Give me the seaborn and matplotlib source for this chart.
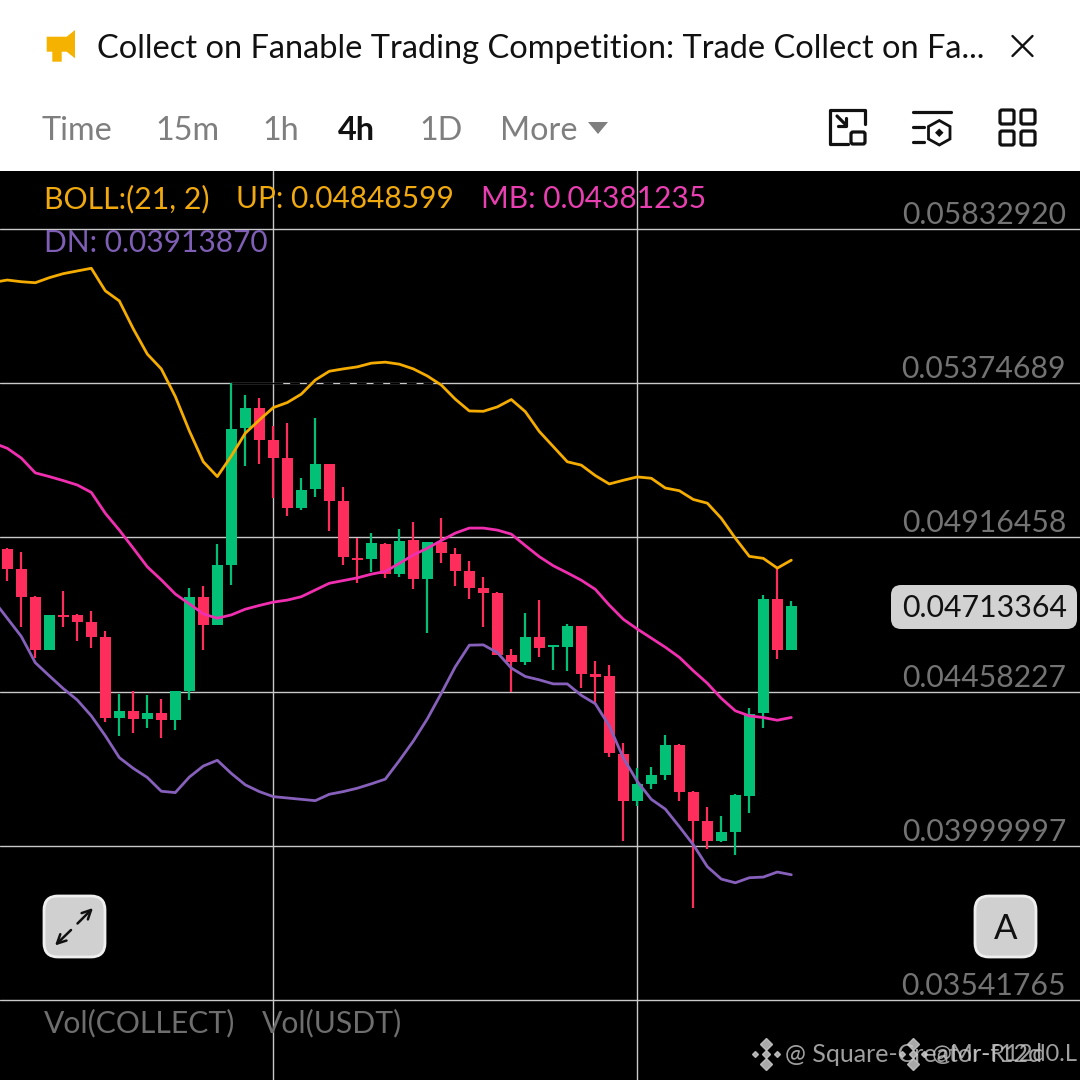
import numpy as np
import pandas as pd
import matplotlib
matplotlib.use("Agg")
import matplotlib.pyplot as plt
import matplotlib.transforms as mtrans
from matplotlib.patches import FancyBboxPatch, Polygon
import seaborn as sns

# candles, 4h
opens = [0.04883, 0.04823, 0.04739, 0.04583, 0.04686, 0.04686, 0.04666, 0.04619, 0.04379, 0.04399,
         0.04376, 0.04394, 0.04374, 0.04459, 0.04740, 0.04657, 0.04834, 0.05241, 0.05300, 0.05206,
         0.05152, 0.05003, 0.05059, 0.05134, 0.05024, 0.04854, 0.04852, 0.04896, 0.04807, 0.04908,
         0.04793, 0.04902, 0.04867, 0.04816, 0.04765, 0.04751, 0.04566, 0.04547, 0.04621, 0.04591,
         0.04592, 0.04654, 0.04510, 0.04505, 0.04272, 0.04133, 0.04184, 0.04211, 0.04299, 0.04159,
         0.04074, 0.04015, 0.04042, 0.04149, 0.04394, 0.04733, 0.04583]
closes = [0.04823, 0.04739, 0.04583, 0.04686, 0.04679, 0.04666, 0.04620, 0.04380, 0.04399, 0.04377,
          0.04394, 0.04374, 0.04459, 0.04740, 0.04657, 0.04834, 0.05238, 0.05300, 0.05206, 0.05152,
          0.05004, 0.05057, 0.05134, 0.05024, 0.04857, 0.04849, 0.04899, 0.04807, 0.04905, 0.04793,
          0.04902, 0.04869, 0.04816, 0.04766, 0.04752, 0.04566, 0.04547, 0.04621, 0.04589, 0.04597,
          0.04654, 0.04511, 0.04502, 0.04275, 0.04133, 0.04183, 0.04210, 0.04299, 0.04159, 0.04074,
          0.04015, 0.04041, 0.04151, 0.04392, 0.04733, 0.04583, 0.04713364]
highs = [0.04885, 0.04874, 0.04741, 0.04686, 0.04756, 0.04688, 0.04699, 0.04639, 0.04451, 0.04459,
         0.04447, 0.04436, 0.04459, 0.04765, 0.04772, 0.04897, 0.05374, 0.05340, 0.05330, 0.05247,
         0.05256, 0.05094, 0.05270, 0.05134, 0.05067, 0.04914, 0.04930, 0.04901, 0.04942, 0.04961,
         0.04902, 0.04973, 0.04884, 0.04846, 0.04800, 0.04755, 0.04584, 0.04691, 0.04730, 0.04597,
         0.04659, 0.04654, 0.04550, 0.04537, 0.04305, 0.04232, 0.04235, 0.04328, 0.04303, 0.04162,
         0.04115, 0.04089, 0.04153, 0.04409, 0.04745, 0.04825, 0.04728]
lows = [0.04788, 0.04651, 0.04559, 0.04583, 0.04651, 0.04609, 0.04587, 0.04367, 0.04326, 0.04336,
        0.04349, 0.04321, 0.04344, 0.04433, 0.04582, 0.04657, 0.04775, 0.05127, 0.05134, 0.05034,
        0.04981, 0.04997, 0.05035, 0.04935, 0.04834, 0.04780, 0.04813, 0.04797, 0.04800, 0.04762,
        0.04633, 0.04839, 0.04773, 0.04734, 0.04651, 0.04566, 0.04458, 0.04537, 0.04562, 0.04522,
        0.04520, 0.04468, 0.04422, 0.04265, 0.04014, 0.04119, 0.04170, 0.04194, 0.04133, 0.03816,
        0.03990, 0.04012, 0.03972, 0.04097, 0.04349, 0.04556, 0.04582]

# bollinger, starts one candle before the first one
boll_up = [0.05674, 0.05681, 0.05676, 0.05673, 0.05688, 0.05700, 0.05708, 0.05716, 0.05649, 0.05619,
           0.05536, 0.05461, 0.05417, 0.05335, 0.05233, 0.05141, 0.05097, 0.05158, 0.05226, 0.05265,
           0.05302, 0.05317, 0.05342, 0.05384, 0.05410, 0.05417, 0.05423, 0.05434, 0.05437, 0.05431,
           0.05417, 0.05396, 0.05369, 0.05327, 0.05292, 0.05291, 0.05304, 0.05326, 0.05290, 0.05231,
           0.05186, 0.05141, 0.05131, 0.05100, 0.05075, 0.05086, 0.05096, 0.05092, 0.05063, 0.05055,
           0.05029, 0.05018, 0.04973, 0.04914, 0.04860, 0.04854, 0.04825, 0.04848599]
boll_mb = [0.05197, 0.05181, 0.05152, 0.05108, 0.05097, 0.05085, 0.05072, 0.05050, 0.04988, 0.04938,
           0.04884, 0.04829, 0.04790, 0.04748, 0.04719, 0.04689, 0.04676, 0.04686, 0.04703, 0.04714,
           0.04724, 0.04730, 0.04740, 0.04760, 0.04780, 0.04788, 0.04796, 0.04807, 0.04815, 0.04839,
           0.04864, 0.04884, 0.04907, 0.04929, 0.04944, 0.04944, 0.04938, 0.04926, 0.04892, 0.04859,
           0.04832, 0.04811, 0.04789, 0.04762, 0.04715, 0.04673, 0.04644, 0.04617, 0.04590, 0.04560,
           0.04520, 0.04483, 0.04438, 0.04401, 0.04386, 0.04381, 0.04373, 0.04381235]
boll_dn = [0.04730, 0.04676, 0.04622, 0.04544, 0.04505, 0.04467, 0.04433, 0.04386, 0.04327, 0.04262,
           0.04230, 0.04203, 0.04162, 0.04158, 0.04204, 0.04237, 0.04254, 0.04215, 0.04181, 0.04161,
           0.04146, 0.04142, 0.04138, 0.04134, 0.04153, 0.04161, 0.04171, 0.04184, 0.04198, 0.04253,
           0.04311, 0.04377, 0.04453, 0.04532, 0.04596, 0.04597, 0.04574, 0.04528, 0.04503, 0.04493,
           0.04481, 0.04481, 0.04447, 0.04422, 0.04356, 0.04261, 0.04191, 0.04138, 0.04109, 0.04057,
           0.04003, 0.03938, 0.03901, 0.03890, 0.03905, 0.03907, 0.03922, 0.03913870]

price_ticks = [0.05832920, 0.05374689, 0.04916458, 0.04458227, 0.03999997, 0.03541765]
time_ticks = [19, 45]
last_price = 0.04713364
intervals = ["Time", "15m", "1h", "4h", "1D", "More"]

VERDE = "#02C076"
ROJO = "#FE2D5B"
NARANJA = "#F5AC00"
MAGENTA = "#F02FB0"
MORADO = "#8660BB"

sns.set_theme(style="dark", rc={"figure.facecolor": "white", "axes.facecolor": "black"})
plt.rcParams["font.family"] = ["Lato", "DejaVu Sans"]

fig = plt.figure(figsize=(10.8, 10.8), dpi=100)
ax = fig.add_axes([0, 0, 1, 909 / 1080])

# candles
x = np.arange(len(opens))
o = np.array(opens)
c = np.array(closes)
colores = [VERDE if a >= b else ROJO for a, b in zip(closes, opens)]
ax.vlines(x, lows, highs, colors=colores, linewidth=1.6, zorder=2)
ax.bar(x, np.abs(c - o), bottom=np.minimum(o, c), width=0.79, color=colores, linewidth=0, zorder=2)

# bollinger
bandas = pd.DataFrame({"idx": np.arange(-1, len(opens)), "UP": boll_up, "MB": boll_mb, "DN": boll_dn})
bandas = bandas.melt(id_vars="idx", var_name="banda", value_name="precio")
sns.lineplot(data=bandas, x="idx", y="precio", hue="banda", ax=ax, legend=False, errorbar=None,
             palette={"UP": NARANJA, "MB": MAGENTA, "DN": MORADO}, linewidth=2.0, zorder=3)

ax.set_xlim(-0.521, 76.62)
ax.set_ylim(0.03304, 0.06005)
ax.set_xlabel("")
ax.set_ylabel("")
ax.set_xticks(time_ticks, ["", ""])
ax.set_yticks(price_ticks, [f"{p:.8f}" for p in price_ticks])
ax.grid(True, color="#c9c9c9", linewidth=1.0)
ax.set_axisbelow(True)
ax.tick_params(axis="both", length=0)
ax.tick_params(axis="y", labelleft=False, labelright=True, pad=-10, labelsize=21.7, labelcolor="#737373")
subir = mtrans.ScaledTranslation(0, 0, fig.dpi_scale_trans)
for lab in ax.get_yticklabels():
    lab.set_ha("right")
    lab.set_va("bottom")
    lab.set_transform(lab.get_transform() + subir)
sns.despine(ax=ax, left=True, bottom=True)

# the scrubbed bit on the 0.0537 line
ax.plot([16, 19], [price_ticks[1]] * 2, color="black", linewidth=1.0, zorder=1.5)
ax.plot([19, 31], [price_ticks[1]] * 2, color="black", linewidth=1.0, dashes=(7, 5), zorder=1.5)

# overlay in pixels for the app interface
ui = fig.add_axes([0, 0, 1, 1], facecolor="none")
ui.set_xlim(0, 1080)
ui.set_ylim(1080, 0)
ui.axis("off")

ui.add_patch(Polygon([(46.7, 36.7), (66.7, 36.7), (75, 30), (75, 58.3), (66.7, 51.7), (61.7, 51.7),
                      (61.7, 61.7), (52.3, 61.7), (52.3, 51.7), (46.7, 51.7)], color="#F5B300", lw=0))
ui.text(97, 49, "Collect on Fanable Trading Competition: Trade Collect on Fa...", fontsize=23.5,
        color="#111111", va="center")
ui.plot([1012.5, 1032.5], [36, 56], color="#111111", lw=1.7)
ui.plot([1012.5, 1032.5], [56, 36], color="#111111", lw=1.7)

xs_int = [42, 155, 262, 338, 419, 500]
for xi, nombre in zip(xs_int, intervals):
    activo = nombre == "4h"
    ui.text(xi, 131, nombre, fontsize=23.3, va="center", color="#111111" if activo else "#7f7f7f",
            fontweight="bold" if activo else "normal")
ui.add_patch(Polygon([(588, 122), (608, 122), (598, 134)], color="#7f7f7f", lw=0))

# header icons
ui.plot([848, 830, 830, 865, 865], [144, 144, 110, 110, 124], color="#111111", lw=2.3, solid_joinstyle="round")
ui.add_patch(FancyBboxPatch((851, 132), 14, 12, boxstyle="round,pad=0,rounding_size=2", fc="none", ec="#111111", lw=2.3))
ui.plot([837, 846], [116, 125], color="#111111", lw=2.3)
ui.plot([837.5, 846, 846], [126, 126, 117.5], color="#111111", lw=2.3)
ui.plot([913, 950.5], [112, 112], color="#111111", lw=2.3)
ui.plot([913, 924], [126.7, 126.7], color="#111111", lw=2.3)
ui.plot([913, 924], [141.7, 141.7], color="#111111", lw=2.3)
ui.add_patch(Polygon([(939.3, 120.5), (950, 126.5), (950, 139), (939.3, 145), (928.5, 139), (928.5, 126.5)],
                     fc="none", ec="#111111", lw=2.0))
ui.add_patch(Polygon([(939.3, 128.5), (943.5, 132.7), (939.3, 137), (935, 132.7)], color="#111111", lw=0))
for xc in [1000, 1021]:
    for yc in [110, 131]:
        ui.add_patch(FancyBboxPatch((xc, yc), 14, 14, boxstyle="round,pad=0,rounding_size=2", fc="none", ec="#111111", lw=2.3))

# legend of the indicator
ui.text(44, 199, "BOLL:(21, 2)", fontsize=21.8, color="#F0A90F", va="center")
ui.text(236, 199, "UP: 0.04848599", fontsize=21.5, color="#F0A90F", va="center")
ui.text(481, 199, "MB: 0.04381235", fontsize=21.5, color="#E83FB1", va="center")
ui.text(44, 243, "DN: 0.03913870", fontsize=21.5, color="#7F5FB5", va="center")
ui.text(44, 1023, "Vol(COLLECT)", fontsize=21.7, color="#6e6e6e", va="center")
ui.text(262, 1023, "Vol(USDT)", fontsize=21.7, color="#6e6e6e", va="center")

# last price pill and buttons
ui.add_patch(FancyBboxPatch((891, 585), 186, 44, boxstyle="round,pad=0,rounding_size=10", fc="#d2d2d2", ec="none"))
ui.text(984.5, 608, f"{last_price:.8f}", fontsize=21.8, color="#111111", ha="center", va="center")
for bx in [44, 975]:
    ui.add_patch(FancyBboxPatch((bx, 896), 61, 61, boxstyle="round,pad=0,rounding_size=14", fc="#d0d0d0", ec="#efefef", lw=2))
ui.text(1006, 929, "A", fontsize=25, color="#111111", ha="center", va="center")
ui.annotate("", xy=(93, 908), xytext=(77.5, 923.5), arrowprops=dict(arrowstyle="->", color="#111111", lw=1.8, shrinkA=0, shrinkB=0, mutation_scale=16))
ui.annotate("", xy=(55, 945.5), xytext=(71, 930), arrowprops=dict(arrowstyle="->", color="#111111", lw=1.8, shrinkA=0, shrinkB=0, mutation_scale=16))

# watermark, two copies on top of each other
for cx in [765.5, 913]:
    ui.plot([cx - 11, cx + 11], [1054, 1054], ls="none", marker="D", ms=3, color="#c8c8c8", alpha=0.85)
    ui.plot([cx, cx], [1044, 1064], ls="none", marker="D", ms=6, color="#c8c8c8", alpha=0.85)
    ui.plot([cx], [1054], ls="none", marker="D", ms=4, color="#c8c8c8", alpha=0.85)
ui.text(785, 1055, "@ Square-Creator-f12d", fontsize=18, color="#c8c8c8", alpha=0.8, va="center")
ui.text(932, 1055, "@Mr-R12d0.L", fontsize=17, color="#c8c8c8", alpha=0.8, va="center")

fig.savefig("out.png", dpi=100)
